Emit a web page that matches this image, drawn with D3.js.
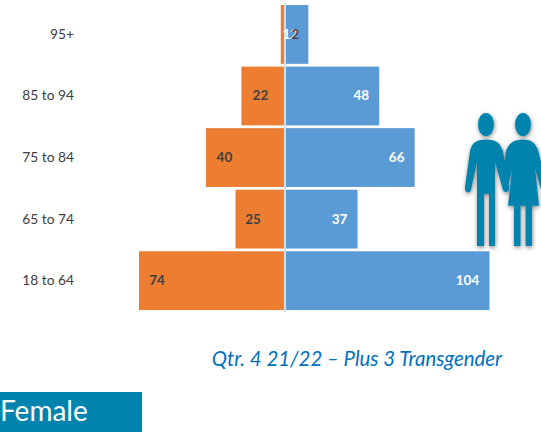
<!DOCTYPE html>
<html><head><meta charset="utf-8">
<script src="https://cdn.jsdelivr.net/npm/d3@7"></script>
<style>html,body{margin:0;padding:0;background:#fff;overflow:hidden}svg{display:block}</style>
</head><body><svg id="c" width="541" height="438"></svg>
<script>
const categories = ["95+","85 to 94","75 to 84","65 to 74","18 to 64"];
const female = [2,22,40,25,74];
const male = [12,48,66,37,104];
const femaleLabelOffset = [14.5,19,18.5,17.5,18];
const maleLabelOffset = [18,18,18,18,22];
const font = "Lato, sans-serif";

const svg = d3.select("#c");
const x = d3.scaleLinear().domain([-74,104]).range([139,489.5]);
const y = d3.scaleBand().domain(categories).range([3.8,311.3]).paddingInner(0.045).paddingOuter(0.02);
const x0 = x(0);
const mid = d => y(d)+y.bandwidth()/2+4.4;

svg.selectAll("rect.f").data(categories).join("rect").attr("class","f")
  .attr("x",(d,i)=>x(-female[i])).attr("y",d=>y(d))
  .attr("width",(d,i)=>x0-x(-female[i])).attr("height",y.bandwidth()).attr("fill","#ed7d31");
svg.selectAll("rect.m").data(categories).join("rect").attr("class","m")
  .attr("x",x0).attr("y",d=>y(d))
  .attr("width",(d,i)=>x(male[i])-x0).attr("height",y.bandwidth()).attr("fill","#5b9bd5");
svg.append("line").attr("x1",x0+0.3).attr("x2",x0+0.3).attr("y1",3).attr("y2",312).attr("stroke","#d3dde8").attr("stroke-width",2);

svg.selectAll("text.cat").data(categories).join("text").attr("class","cat")
  .attr("x",74).attr("y",mid).attr("text-anchor","end")
  .attr("font-family",font).attr("font-size",13.8).attr("fill","#404040").text(d=>d);

svg.selectAll("text.ml").data(categories).join("text").attr("class","ml")
  .attr("x",(d,i)=>x(male[i])-maleLabelOffset[i]).attr("y",mid)
  .attr("text-anchor","middle").attr("font-family",font).attr("font-size",13.5).attr("font-weight",700)
  .attr("fill","#ffffff").text((d,i)=>male[i]);
svg.selectAll("text.fl").data(categories).join("text").attr("class","fl")
  .attr("x",(d,i)=>x(-female[i])+femaleLabelOffset[i]).attr("y",mid)
  .attr("text-anchor","middle").attr("font-family",font).attr("font-size",13.5).attr("font-weight",700)
  .attr("fill","#404040").text((d,i)=>female[i]);

// people pictogram
const defs = svg.append("defs");
const fl = defs.append("filter").attr("id","sh").attr("x","-20%").attr("y","-20%").attr("width","140%").attr("height","140%");
fl.append("feDropShadow").attr("dx",0.5).attr("dy",1.5).attr("stdDeviation",2.2).attr("flood-color","#000").attr("flood-opacity",0.5);
const teal = "#0083ad";
const g = svg.append("g").attr("fill",teal).attr("filter","url(#sh)");
g.append("ellipse").attr("cx",486).attr("cy",124.5).attr("rx",8).attr("ry",11.5);
g.append("ellipse").attr("cx",523).attr("cy",124.5).attr("rx",8).attr("ry",11.5);
g.append("path").attr("d","M486 139.5 C476 139.5 472 143 470 151 L465 187 C464 193 470 194 471 190 L477 162 L477 246 L484 246 L484 194 L489 194 L489 246 L495 246 L495 162 L503 190 C505 194 510 192 509 187 L503 151 C500 143 496 139.5 486 139.5 Z");
g.append("path").attr("d","M523 139.5 C514 139.5 509 143 506 151 L503 172 L507 190 L512 170 L508 205.7 L514 205.7 L514 246 L520.5 246 L520.5 205.7 L525.5 205.7 L525.5 246 L532 246 L532 205.7 L539 205.7 L535 168 L541 190 L541 162 L538 150 C535 143 532 139.5 523 139.5 Z");

svg.append("text").attr("x",502).attr("y",366).attr("text-anchor","end")
  .attr("font-family",font).attr("font-style","italic").attr("font-size",20.4).attr("fill","#0070c0")
  .text("Qtr. 4 21/22 – Plus 3 Transgender");

svg.append("rect").attr("x",0).attr("y",392).attr("width",142).attr("height",40).attr("fill",teal);
svg.append("text").attr("x",0).attr("y",421).attr("font-family",font).attr("font-size",28).attr("fill","#fff").text("Female");
</script></body></html>
